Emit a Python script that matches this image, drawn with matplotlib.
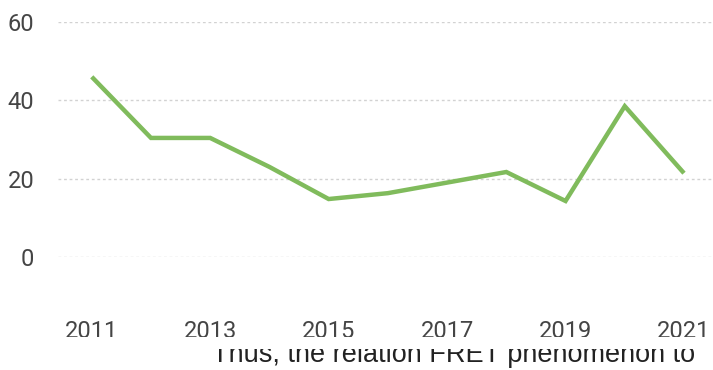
import matplotlib
matplotlib.use("Agg")
import matplotlib.pyplot as plt
from matplotlib.patches import Rectangle

years = [2011, 2012, 2013, 2014, 2015, 2016, 2017, 2018, 2019, 2020, 2021]
values = [46, 30.4, 30.4, 23, 14.8, 16.3, 19, 21.7, 14.3, 38.5, 21.4]
x_ticks = [2011, 2013, 2015, 2017, 2019, 2021]
y_ticks = [0, 20, 40, 60]
caption = "Thus, the relation FRET phenomenon to"

W, H = 713, 370
TEXT = "#454545"
GREEN = "#80bb5c"

plt.rcParams["font.family"] = ["Roboto", "DejaVu Sans"]

fig = plt.figure(figsize=(W / 100, H / 100), dpi=100)
ax = fig.add_axes([58 / W, (H - 257) / H, 655 / W, 235 / H])

ax.plot(years, values, color=GREEN, lw=3.2, solid_joinstyle="miter",
        solid_capstyle="butt", clip_on=False, zorder=3)

ax.set_xlim(2010.43, 2021.49)
ax.set_ylim(0, 60)
ax.set_xticks(x_ticks)
ax.set_yticks(y_ticks)
ax.tick_params(axis="both", length=0, labelsize=17, colors=TEXT)
ax.tick_params(axis="y", pad=17)
ax.tick_params(axis="x", pad=45)
ax.yaxis.grid(True, color="#d2d2d2", lw=1.0, ls=(0, (2, 2)))
ax.xaxis.grid(False)
for s in ax.spines.values():
    s.set_visible(False)

# caption line below the chart, its upper half hidden
fig.text(212 / W, (H - 362) / H, caption, family="Liberation Sans",
         fontsize=19.5, color="#222222", ha="left", va="baseline", zorder=3)
fig.add_artist(Rectangle((0, (H - 349) / H), 1, 12 / H, transform=fig.transFigure,
                         facecolor="white", edgecolor="none", zorder=4))

fig.savefig("out.png", dpi=100)
